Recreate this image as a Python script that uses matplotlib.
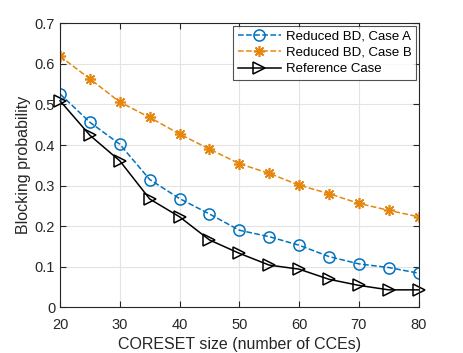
import numpy as np
import matplotlib
matplotlib.use('Agg')
import matplotlib.pyplot as plt

plt.rcParams['font.family'] = ['Liberation Sans', 'DejaVu Sans']

# Data
coreset = [20, 25, 30, 35, 40, 45, 50, 55, 60, 65, 70, 75, 80]
case_a = [0.526, 0.456, 0.402, 0.315, 0.268, 0.230, 0.190, 0.174, 0.153, 0.125, 0.107, 0.098, 0.084]
case_b = [0.619, 0.563, 0.506, 0.468, 0.427, 0.390, 0.354, 0.330, 0.301, 0.280, 0.256, 0.239, 0.223]
ref_case = [0.509, 0.424, 0.361, 0.267, 0.223, 0.166, 0.133, 0.104, 0.094, 0.069, 0.054, 0.043, 0.043]

xticks = [20, 30, 40, 50, 60, 70, 80]
yticks = [0, 0.1, 0.2, 0.3, 0.4, 0.5, 0.6, 0.7]

fig = plt.figure(figsize=(4.63, 3.53), dpi=100)
ax = fig.add_axes([60/463, 1 - 307.3/353, (418.7-60)/463, (307.3-23.3)/353])

ax.plot(coreset, case_a, '--o', color='#0072BD', mfc='none', ms=8, mew=1.1, lw=1.1,
        label='Reduced BD, Case A')
ax.plot(coreset, case_b, '--', marker=(8, 2, 0), color='#E5870E', ms=8, mew=1.2, lw=1.1,
        label='Reduced BD, Case B')
ax.plot(coreset, ref_case, '-', marker='>', color='black', mfc='none', ms=9, mew=1.1, lw=1.1,
        label='Reference Case', clip_on=False)

ax.set_xlim(20, 80)
ax.set_ylim(0, 0.7)
ax.set_xticks(xticks)
ax.set_yticks(yticks)
ax.set_yticklabels(['0', '0.1', '0.2', '0.3', '0.4', '0.5', '0.6', '0.7'])
ax.grid(True, color='#E3E3E3', lw=0.8)
ax.set_axisbelow(True)
ax.tick_params(direction='in', top=True, right=True, labelsize=10.5, colors='#262626', length=4)
ax.tick_params(axis='x', pad=8)
for s in ax.spines.values():
    s.set_color('#262626')
    s.set_linewidth(0.8)

ax.set_xlabel('CORESET size (number of CCEs)', fontsize=11.5, color='#262626', labelpad=3)
ax.set_ylabel('Blocking probability', fontsize=11.5, color='#262626', labelpad=3)

leg = ax.legend(loc='upper right', fontsize=9.5, frameon=True, fancybox=False,
                edgecolor='#262626', borderaxespad=0.2, handlelength=3.3,
                labelspacing=0.3, borderpad=0.35, handletextpad=0.35)
leg.get_frame().set_linewidth(0.8)

fig.savefig('out.png', dpi=100)
